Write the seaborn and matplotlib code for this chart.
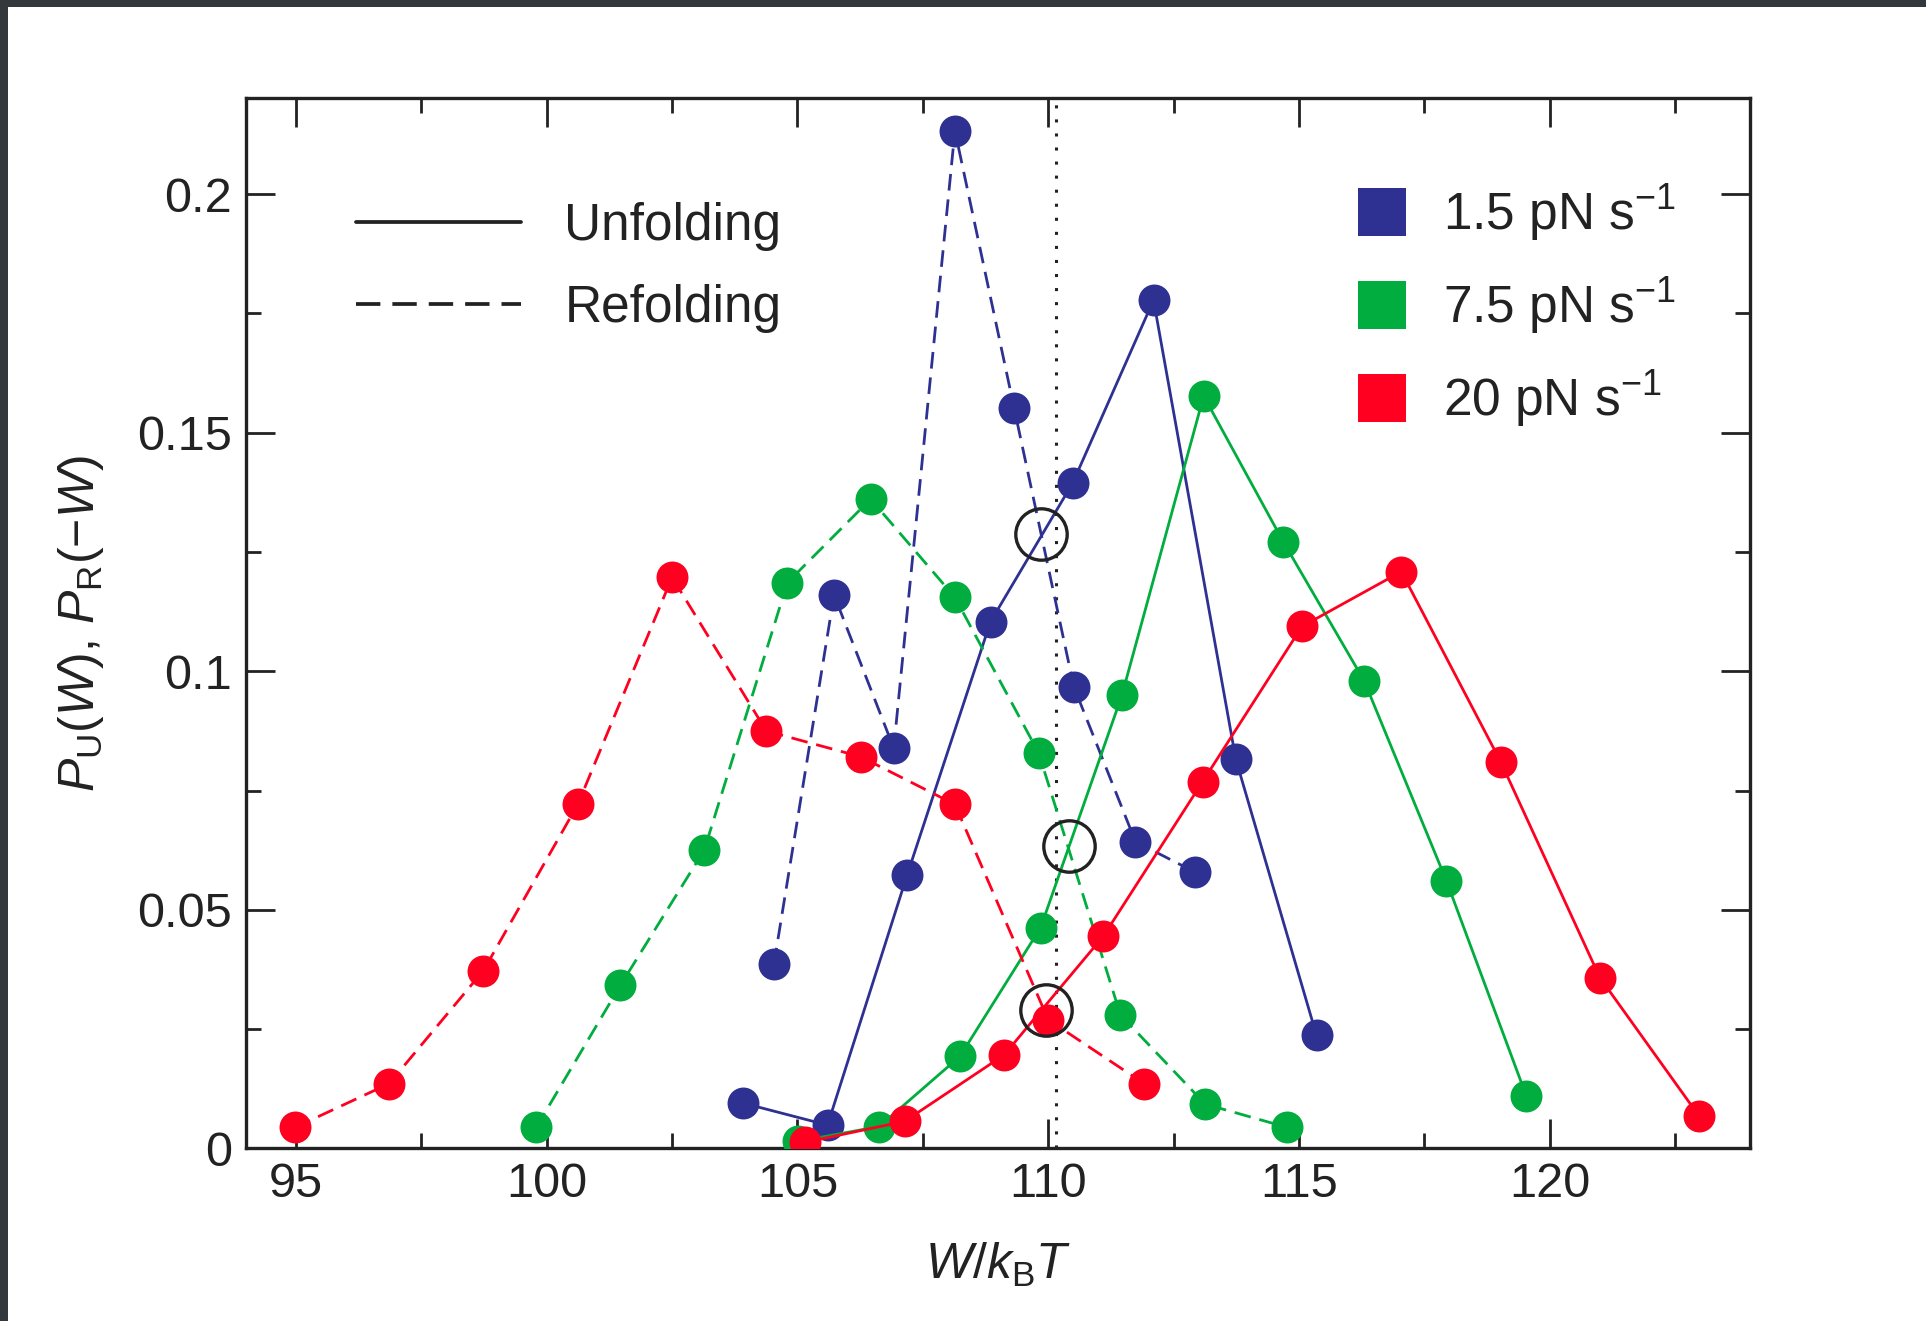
import matplotlib
matplotlib.use("Agg")
import matplotlib.pyplot as plt
import seaborn as sns
import numpy as np
import pandas as pd
from matplotlib.lines import Line2D
from matplotlib.patches import Rectangle
from matplotlib.ticker import MultipleLocator, FixedLocator

# ---------------- data ----------------
blue_ref_x = [104.53, 105.73, 106.92, 108.14, 109.32, 110.51, 111.74, 112.93]
blue_ref_y = [0.0386, 0.1160, 0.0839, 0.2133, 0.1552, 0.0968, 0.0643, 0.0579]
blue_unf_x = [103.92, 105.60, 107.19, 108.85, 110.49, 112.10, 113.74, 115.35]
blue_unf_y = [0.0095, 0.0049, 0.0574, 0.1104, 0.1395, 0.1778, 0.0816, 0.0237]

green_ref_x = [99.79, 101.47, 103.14, 104.80, 106.46, 108.14, 109.81, 111.44, 113.13, 114.77]
green_ref_y = [0.0044, 0.0342, 0.0625, 0.1186, 0.1361, 0.1155, 0.0829, 0.0280, 0.0093, 0.0044]
green_unf_x = [105.02, 106.63, 108.24, 109.85, 111.47, 113.10, 114.69, 116.30, 117.94, 119.53]
green_unf_y = [0.0015, 0.0046, 0.0193, 0.0463, 0.0950, 0.1577, 0.1271, 0.0980, 0.0561, 0.0111]

red_ref_x = [94.98, 96.86, 98.74, 100.62, 102.50, 104.38, 106.26, 108.14, 110.00, 111.91]
red_ref_y = [0.0044, 0.0136, 0.0373, 0.0721, 0.1197, 0.0875, 0.0821, 0.0721, 0.0270, 0.0136]
red_unf_x = [105.16, 107.14, 109.12, 111.10, 113.08, 115.06, 117.04, 119.02, 121.00, 122.97]
red_unf_y = [0.0013, 0.0057, 0.0196, 0.0445, 0.0769, 0.1094, 0.1209, 0.0811, 0.0358, 0.0069]

cross_x = [109.85, 110.42, 109.95]
cross_y = [0.1287, 0.0633, 0.0291]
dotted_x = 110.15

rate_labels = ["1.5 pN s$^{-1}$", "7.5 pN s$^{-1}$", "20 pN s$^{-1}$"]
mode_labels = ["Unfolding", "Refolding"]
xticks_major = [95, 100, 105, 110, 115, 120]
yticks_major = [0, 0.05, 0.1, 0.15, 0.2]
ytick_labels = ["0", "0.05", "0.1", "0.15", "0.2"]

BLUE = "#2e3192"
GREEN = "#00ad3e"
RED = "#ff0020"
INK = "#222222"

# ---------------- style ----------------
sns.set_theme(style="white")
plt.rcParams["font.family"] = ["Liberation Sans", "DejaVu Sans"]
plt.rcParams["mathtext.fontset"] = "custom"
plt.rcParams["mathtext.rm"] = "Liberation Sans"
plt.rcParams["mathtext.it"] = "Liberation Sans:italic"
plt.rcParams["mathtext.default"] = "regular"

fig = plt.figure(figsize=(19.26, 13.21), dpi=100)
fig.patch.set_facecolor("white")
ax = fig.add_axes([0.1276, 0.1306, 0.7812, 0.7950])

# screenshot frame strips
fig.patches.append(Rectangle((0, 1 - 7 / 1321), 1, 7 / 1321, transform=fig.transFigure,
                             facecolor="#33383d", edgecolor="none", zorder=0))
fig.patches.append(Rectangle((0, 0), 8 / 1926, 1, transform=fig.transFigure,
                             facecolor="#33383d", edgecolor="none", zorder=0))

LW = 2.0
MS = 23
dash = (0, (6.0, 3.2))

series = [
    (blue_ref_x, blue_ref_y, BLUE, dash),
    (blue_unf_x, blue_unf_y, BLUE, "-"),
    (green_ref_x, green_ref_y, GREEN, dash),
    (green_unf_x, green_unf_y, GREEN, "-"),
    (red_ref_x, red_ref_y, RED, dash),
    (red_unf_x, red_unf_y, RED, "-"),
]
for i, (xs, ys, col, ls) in enumerate(series):
    df = pd.DataFrame({"x": xs, "y": ys})
    sns.lineplot(data=df, x="x", y="y", ax=ax, sort=False, estimator=None,
                 color=col, linestyle=ls, linewidth=LW, marker="o",
                 markersize=MS, markeredgewidth=0, markeredgecolor=col,
                 zorder=3 + i, legend=False)

ax.axvline(dotted_x, color=INK, linestyle=(0, (1, 3.6)), linewidth=2.2, zorder=2)

ax.plot(cross_x, cross_y, linestyle="none", marker="o", markersize=37,
        markerfacecolor="none", markeredgecolor=INK, markeredgewidth=2.4, zorder=10)

# ---------------- axes ----------------
ax.set_xlim(94.0, 124.0)
ax.set_ylim(0, 0.2201)
ax.xaxis.set_major_locator(FixedLocator(xticks_major))
ax.xaxis.set_minor_locator(MultipleLocator(2.5))
ax.yaxis.set_major_locator(FixedLocator(yticks_major))
ax.set_yticklabels(ytick_labels)
ax.yaxis.set_minor_locator(MultipleLocator(0.025))

for s in ax.spines.values():
    s.set_linewidth(2.4)
    s.set_color(INK)
    s.set_visible(True)

ax.tick_params(which="both", direction="in", top=True, right=True, bottom=True, left=True,
               color=INK, width=2.0)
ax.tick_params(which="major", length=21, labelsize=35, pad=10, labelcolor=INK)
ax.tick_params(which="minor", length=10.5)

ax.set_xlabel(r"$\mathit{W}$/$\mathit{k}_{\rm B}\mathit{T}$", fontsize=36, color=INK, labelpad=24)
ax.set_ylabel(r"$\mathit{P}_{\rm U}$($\mathit{W}$), $\mathit{P}_{\rm R}$($-\mathit{W}$)",
              fontsize=36, color=INK, labelpad=22)

# ---------------- legends ----------------
mode_handles = [
    Line2D([], [], color=INK, linewidth=2.7, linestyle="-"),
    Line2D([], [], color=INK, linewidth=2.7, linestyle=(0, (6.5, 3.2))),
]
leg1 = ax.legend(mode_handles, mode_labels, loc="upper left",
                 bbox_to_anchor=(0.0735, 0.9015), frameon=False, fontsize=37,
                 handlelength=3.2, handletextpad=0.85, labelspacing=0.64,
                 borderpad=0, borderaxespad=0, labelcolor=INK)
ax.add_artist(leg1)

rate_handles = [Line2D([], [], linestyle="none", marker="s", markersize=34,
                       markerfacecolor=c, markeredgewidth=0) for c in (BLUE, GREEN, RED)]
leg2 = ax.legend(rate_handles, rate_labels, loc="upper left",
                 bbox_to_anchor=(0.7384, 0.920), frameon=False, fontsize=37,
                 handlelength=1.0, handletextpad=0.68, labelspacing=0.62,
                 borderpad=0, borderaxespad=0, labelcolor=INK)

fig.savefig("out.png", dpi=100, facecolor="white")
